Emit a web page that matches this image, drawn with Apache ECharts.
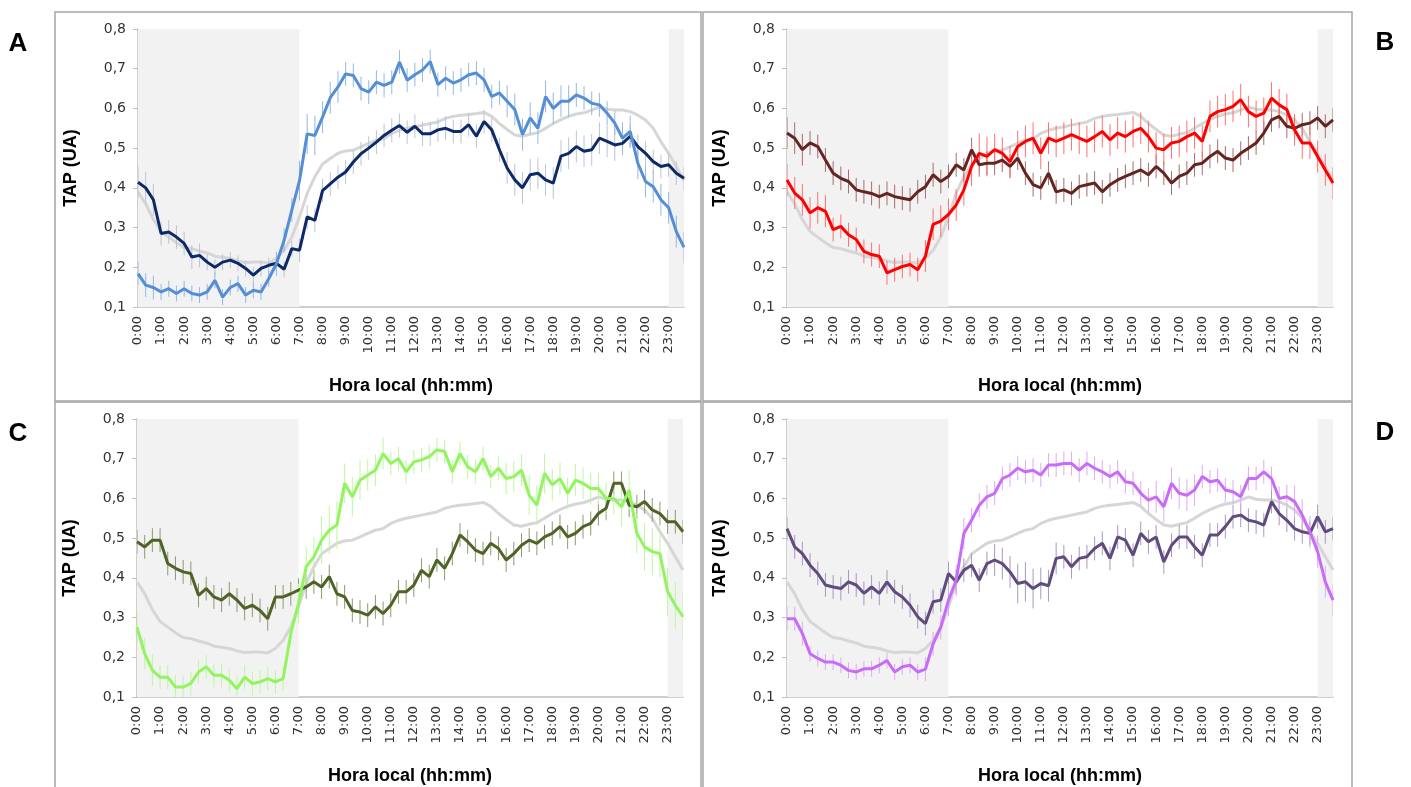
<!DOCTYPE html>
<html><head><meta charset="utf-8">
<script src="https://cdn.jsdelivr.net/npm/echarts@6/dist/echarts.min.js"></script>
<style>html,body{margin:0;padding:0;background:#fff}#c{width:1411px;height:787px}</style>
</head><body><div id="c"></div>
<script>
// time of each sample, hours (20-minute steps, 0:00 .. 23:40)
const times = Array.from({length: 72}, (_, i) => i / 3);
const yTicks = [0.1, 0.2, 0.3, 0.4, 0.5, 0.6, 0.7, 0.8];
const panelLetters = ['A', 'B', 'C', 'D'];

// grey reference curve (same in all panels)
const refGrey = [0.39,0.36,0.32,0.29,0.276,0.262,0.25,0.247,0.241,0.236,0.228,0.225,
0.222,0.216,0.212,0.213,0.213,0.211,0.222,0.243,0.276,0.327,0.386,0.428,
0.46,0.474,0.487,0.493,0.495,0.503,0.512,0.52,0.524,0.537,0.545,0.55,
0.554,0.558,0.562,0.566,0.575,0.58,0.583,0.585,0.587,0.59,0.58,0.562,
0.547,0.533,0.53,0.535,0.539,0.55,0.562,0.572,0.58,0.586,0.589,0.596,
0.604,0.598,0.596,0.596,0.592,0.583,0.571,0.55,0.516,0.487,0.453,0.42];

// Panel A
const aDark = [0.414,0.40,0.37,0.285,0.289,0.276,0.26,0.226,0.23,0.213,0.20,0.213,
0.218,0.21,0.197,0.18,0.197,0.205,0.21,0.195,0.247,0.243,0.327,0.318,
0.393,0.41,0.427,0.44,0.465,0.486,0.50,0.515,0.532,0.545,0.557,0.54,
0.555,0.536,0.536,0.546,0.55,0.542,0.542,0.559,0.53,0.567,0.546,0.496,
0.45,0.42,0.40,0.433,0.437,0.42,0.412,0.48,0.487,0.504,0.492,0.496,
0.525,0.517,0.508,0.512,0.53,0.504,0.487,0.466,0.454,0.458,0.437,0.424];
const aLight = [0.184,0.155,0.149,0.138,0.146,0.134,0.146,0.134,0.13,0.138,0.167,0.125,
0.149,0.159,0.13,0.142,0.138,0.171,0.209,0.268,0.344,0.418,0.536,0.532,
0.578,0.627,0.654,0.687,0.683,0.65,0.641,0.666,0.658,0.666,0.717,0.671,
0.685,0.697,0.718,0.66,0.676,0.664,0.672,0.685,0.689,0.672,0.63,0.639,
0.618,0.597,0.534,0.576,0.55,0.63,0.6,0.618,0.618,0.634,0.626,0.613,
0.609,0.588,0.563,0.525,0.542,0.462,0.416,0.403,0.37,0.35,0.29,0.25];
// Panel B
const bDark = [0.538,0.525,0.496,0.513,0.504,0.47,0.437,0.424,0.416,0.395,0.39,0.386,
0.378,0.386,0.378,0.374,0.37,0.39,0.403,0.433,0.416,0.429,0.458,0.445,
0.496,0.458,0.462,0.462,0.47,0.454,0.475,0.437,0.408,0.4,0.437,0.39,
0.395,0.386,0.403,0.408,0.412,0.39,0.408,0.42,0.429,0.437,0.445,0.433,
0.454,0.437,0.412,0.429,0.437,0.458,0.462,0.479,0.492,0.475,0.47,0.487,
0.5,0.513,0.538,0.571,0.58,0.555,0.55,0.559,0.563,0.576,0.555,0.571];
const bLight = [0.42,0.387,0.37,0.337,0.35,0.341,0.295,0.303,0.282,0.27,0.24,0.232,
0.228,0.186,0.194,0.202,0.207,0.194,0.228,0.308,0.316,0.333,0.357,0.395,
0.454,0.487,0.479,0.496,0.487,0.466,0.504,0.517,0.525,0.487,0.525,0.517,
0.525,0.534,0.525,0.517,0.529,0.542,0.521,0.538,0.529,0.542,0.55,0.529,
0.5,0.496,0.513,0.517,0.529,0.538,0.517,0.58,0.592,0.597,0.605,0.622,
0.592,0.58,0.588,0.626,0.609,0.597,0.546,0.513,0.513,0.479,0.445,0.412];
// Panel C
const cDark = [0.491,0.478,0.495,0.495,0.436,0.424,0.415,0.411,0.356,0.373,0.352,0.344,
0.36,0.344,0.323,0.331,0.318,0.297,0.352,0.352,0.36,0.369,0.377,0.39,
0.377,0.403,0.36,0.352,0.318,0.314,0.306,0.327,0.31,0.331,0.365,0.365,
0.382,0.419,0.403,0.445,0.424,0.461,0.508,0.491,0.47,0.461,0.487,0.474,
0.445,0.461,0.482,0.495,0.487,0.503,0.512,0.529,0.503,0.512,0.529,0.537,
0.562,0.575,0.638,0.638,0.583,0.579,0.592,0.571,0.562,0.541,0.541,0.516];
const cLight = [0.276,0.209,0.167,0.15,0.15,0.125,0.125,0.134,0.163,0.176,0.155,0.155,
0.142,0.121,0.15,0.134,0.138,0.146,0.138,0.146,0.26,0.335,0.428,0.453,
0.495,0.52,0.533,0.638,0.604,0.646,0.659,0.671,0.713,0.688,0.70,0.667,
0.692,0.697,0.705,0.722,0.718,0.667,0.713,0.68,0.667,0.70,0.655,0.676,
0.65,0.655,0.671,0.608,0.583,0.663,0.634,0.65,0.613,0.646,0.638,0.625,
0.625,0.60,0.60,0.579,0.621,0.512,0.478,0.466,0.461,0.365,0.331,0.302];
// Panel D
const dDark = [0.524,0.478,0.461,0.432,0.411,0.382,0.377,0.373,0.39,0.382,0.361,0.377,
0.361,0.39,0.365,0.352,0.331,0.302,0.285,0.34,0.344,0.411,0.39,0.419,
0.432,0.394,0.436,0.445,0.436,0.415,0.386,0.39,0.373,0.386,0.38,0.449,
0.453,0.428,0.449,0.453,0.474,0.487,0.449,0.503,0.495,0.457,0.512,0.491,
0.503,0.44,0.482,0.503,0.503,0.478,0.457,0.508,0.508,0.529,0.554,0.558,
0.545,0.541,0.533,0.592,0.562,0.545,0.524,0.516,0.512,0.554,0.516,0.524];
const dLight = [0.297,0.297,0.26,0.209,0.197,0.188,0.188,0.18,0.167,0.163,0.171,0.171,
0.18,0.192,0.163,0.176,0.18,0.163,0.17,0.234,0.276,0.344,0.394,0.512,
0.545,0.583,0.604,0.613,0.65,0.659,0.676,0.667,0.671,0.659,0.684,0.684,
0.688,0.688,0.671,0.688,0.676,0.667,0.655,0.667,0.642,0.638,0.613,0.596,
0.604,0.579,0.638,0.613,0.608,0.621,0.655,0.642,0.646,0.621,0.617,0.604,
0.65,0.65,0.667,0.65,0.60,0.604,0.592,0.558,0.516,0.466,0.39,0.344];

// error half-widths, one per hour
const aDarkErr  = [0.04,0.03,0.03,0.02,0.02,0.02,0.02,0.03,0.03,0.03,0.03,0.03,0.03,0.03,0.03,0.03,0.04,0.04,0.04,0.04,0.04,0.03,0.03,0.03];
const aLightErr = [0.03,0.02,0.02,0.02,0.02,0.02,0.03,0.05,0.04,0.03,0.03,0.03,0.03,0.03,0.03,0.03,0.04,0.04,0.04,0.03,0.03,0.04,0.04,0.04];
const bDarkErr  = [0.04,0.03,0.03,0.03,0.03,0.03,0.03,0.03,0.03,0.03,0.03,0.03,0.03,0.03,0.03,0.03,0.03,0.03,0.03,0.03,0.03,0.03,0.03,0.03];
const bLightErr = [0.04,0.04,0.03,0.03,0.03,0.03,0.04,0.04,0.05,0.04,0.04,0.04,0.04,0.04,0.04,0.04,0.04,0.04,0.04,0.04,0.04,0.04,0.04,0.04];
const cDarkErr  = [0.03,0.03,0.03,0.03,0.03,0.03,0.03,0.03,0.03,0.03,0.03,0.03,0.03,0.03,0.03,0.03,0.03,0.03,0.03,0.03,0.03,0.03,0.03,0.03];
const cLightErr = [0.04,0.03,0.03,0.03,0.03,0.03,0.03,0.05,0.06,0.05,0.04,0.03,0.03,0.03,0.03,0.03,0.04,0.05,0.04,0.04,0.04,0.05,0.06,0.06];
const dDarkErr  = [0.03,0.03,0.03,0.03,0.03,0.03,0.03,0.03,0.03,0.04,0.05,0.04,0.03,0.03,0.03,0.03,0.03,0.03,0.03,0.03,0.03,0.03,0.03,0.03];
const dLightErr = [0.03,0.02,0.02,0.02,0.02,0.02,0.03,0.04,0.03,0.03,0.03,0.03,0.03,0.03,0.03,0.03,0.04,0.04,0.03,0.03,0.03,0.03,0.04,0.04];

const XMAX = times[times.length - 1];
const panels = [
  {dark: aDark, light: aLight, dErr: aDarkErr, lErr: aLightErr, dc: '#0E2A66', lc: '#558ED5', dec: '#B9C4DA', lec: '#93B8E6', left: 138, top: 29},
  {dark: bDark, light: bLight, dErr: bDarkErr, lErr: bLightErr, dc: '#632523', lc: '#FF0000', dec: '#A86E6E', lec: '#FF7070', left: 787, top: 29},
  {dark: cDark, light: cLight, dErr: cDarkErr, lErr: cLightErr, dc: '#4F6228', lc: '#92F45E', dec: '#8D9A72', lec: '#BBF89E', left: 137, top: 419},
  {dark: dDark, light: dLight, dErr: dDarkErr, lErr: dLightErr, dc: '#5F4B7E', lc: '#C86CF7', dec: '#A998C2', lec: '#DEAAF8', left: 787, top: 419}
];

const FONT = '"DejaVu Sans", sans-serif';
const grids = [], xAxes = [], yAxes = [], series = [];

function zip(vals) { return vals.map((v, i) => [times[i], v]); }
function errSeries(gi, vals, errs, color) {
  return {
    type: 'custom', xAxisIndex: gi, yAxisIndex: gi, z: 3, silent: true, clip: true,
    encode: {x: 0, y: 1},
    data: vals.map((v, i) => [times[i], v, errs[Math.floor(times[i] + 1e-9)]]),
    renderItem: (params, api) => {
      const x = api.value(0), y = api.value(1), e = api.value(2);
      const p1 = api.coord([x, y - e]), p2 = api.coord([x, y + e]);
      return {type: 'line', shape: {x1: p1[0], y1: p1[1], x2: p2[0], y2: p2[1]},
              style: {stroke: color, lineWidth: 1}};
    }
  };
}

panels.forEach((p, gi) => {
  grids.push({left: p.left, top: p.top, width: 546, height: 278, containLabel: false});
  xAxes.push({
    type: 'value', gridIndex: gi, min: 0, max: XMAX, interval: 1,
    name: 'Hora local (hh:mm)', nameLocation: 'middle', nameGap: 70,
    nameTextStyle: {fontFamily: '"Liberation Sans"', fontWeight: 'bold', fontSize: 18, color: '#000', verticalAlign: 'top'},
    axisLine: {show: true, lineStyle: {color: '#BFBFBF', width: 1.5}},
    axisTick: {show: false},
    splitLine: {show: false},
    axisLabel: {rotate: 90, margin: 9, color: '#333', fontFamily: FONT, fontSize: 13,
      showMaxLabel: false,
      formatter: v => Math.abs(v - Math.round(v)) < 1e-6 ? Math.round(v) + ':00' : ''}
  });
  yAxes.push({
    type: 'value', gridIndex: gi, min: yTicks[0], max: yTicks[yTicks.length - 1], interval: 0.1,
    name: 'TAP (UA)', nameLocation: 'middle', nameGap: 58,
    nameTextStyle: {fontFamily: '"Liberation Sans"', fontWeight: 'bold', fontSize: 18, color: '#000'},
    axisLine: {show: true, lineStyle: {color: '#BFBFBF', width: 1.5}},
    axisTick: {show: true, length: 5, inside: false, lineStyle: {color: '#BFBFBF'}},
    splitLine: {show: false},
    axisLabel: {margin: 12, color: '#333', fontFamily: FONT, fontSize: 14,
      formatter: v => v.toFixed(1).replace('.', ',')}
  });
  // night shading
  series.push({
    type: 'line', xAxisIndex: gi, yAxisIndex: gi, data: [], z: 1, silent: true,
    markArea: {silent: true, itemStyle: {color: '#F2F2F2'},
      data: [[{xAxis: 0}, {xAxis: 7}], [{xAxis: 23}, {xAxis: XMAX}]]}
  });
  series.push({type: 'line', xAxisIndex: gi, yAxisIndex: gi, data: zip(refGrey), z: 2,
    showSymbol: false, silent: true, lineStyle: {color: '#D6D6D6', width: 3}});
  series.push(errSeries(gi, p.dark, p.dErr, p.dec));
  series.push(errSeries(gi, p.light, p.lErr, p.lec));
  series.push({type: 'line', xAxisIndex: gi, yAxisIndex: gi, data: zip(p.dark), z: 4,
    showSymbol: false, silent: true, lineStyle: {color: p.dc, width: 3}});
  series.push({type: 'line', xAxisIndex: gi, yAxisIndex: gi, data: zip(p.light), z: 5,
    showSymbol: false, silent: true, lineStyle: {color: p.lc, width: 3}});
});

const boxStyle = {fill: 'none', stroke: '#A6A6A6', lineWidth: 1.5};
const graphic = [
  {type: 'rect', shape: {x: 55, y: 12, width: 646, height: 389}, style: boxStyle, z: 100},
  {type: 'rect', shape: {x: 703, y: 12, width: 649, height: 389}, style: boxStyle, z: 100},
  {type: 'rect', shape: {x: 55, y: 402, width: 646, height: 400}, style: boxStyle, z: 100},
  {type: 'rect', shape: {x: 703, y: 402, width: 649, height: 400}, style: boxStyle, z: 100}
];
const letterPos = [[18, 44], [1385, 43], [18, 434], [1385, 433]];
panelLetters.forEach((L, i) => graphic.push({
  type: 'text', x: letterPos[i][0], y: letterPos[i][1], z: 100,
  style: {text: L, font: 'bold 26px "Liberation Sans"', fill: '#000', align: 'center', verticalAlign: 'middle'}
}));

const chart = echarts.init(document.getElementById('c'), null, {renderer: 'canvas'});
chart.setOption({
  animation: false,
  backgroundColor: '#fff',
  grid: grids, xAxis: xAxes, yAxis: yAxes, series: series, graphic: graphic
});
</script>
</body></html>
